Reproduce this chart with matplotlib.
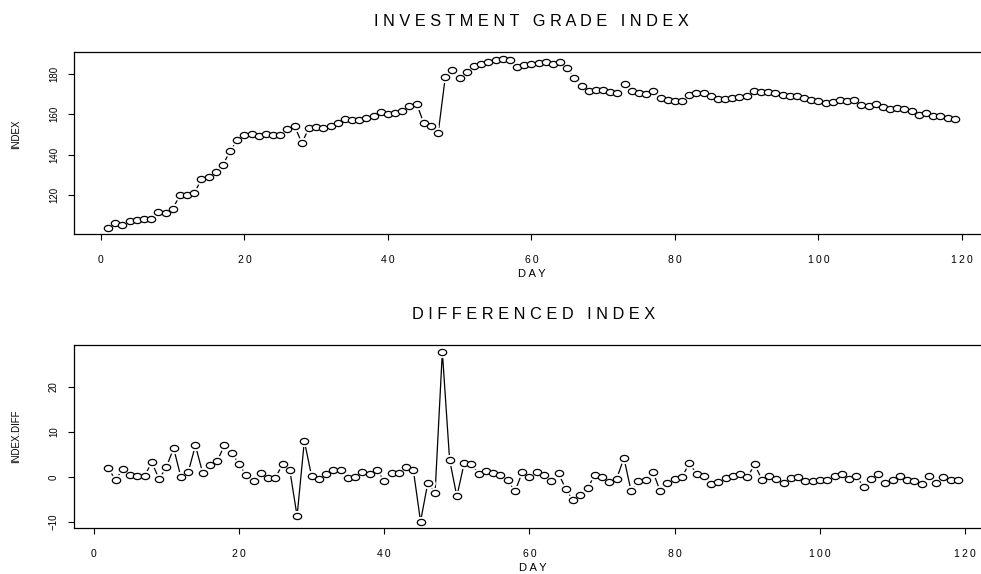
import numpy as np
import matplotlib as mpl
mpl.use("Agg")
import matplotlib.pyplot as plt
from matplotlib.path import Path
from matplotlib.ticker import FuncFormatter

mpl.rcParams.update({"font.family": ["Liberation Sans", "DejaVu Sans"],
    "axes.linewidth": 0.9, "xtick.major.width": 0.8, "ytick.major.width": 0.8,
    "xtick.major.size": 4, "ytick.major.size": 4})

# investment grade index, days 1..119
day = np.arange(1, 120)
index = [104.0, 106.1, 105.5, 107.3, 107.9, 108.1, 108.4, 111.7, 111.2, 113.3,
         119.9, 119.9, 121.0, 127.8, 128.8, 131.3, 134.9, 141.9, 147.1, 149.9,
         150.2, 149.4, 150.2, 149.9, 149.7, 152.8, 154.2, 145.7, 153.3, 153.8,
         153.3, 154.2, 155.8, 157.5, 157.3, 157.3, 158.2, 159.1, 160.9, 159.9,
         160.5, 161.7, 164.0, 165.3, 155.5, 154.0, 150.6, 178.5, 182.1, 178.0,
         180.8, 184.1, 184.9, 186.0, 186.9, 187.3, 186.7, 183.6, 184.4, 184.6,
         185.5, 185.7, 184.9, 185.9, 183.1, 177.7, 173.9, 171.3, 172.0, 172.0,
         170.8, 170.5, 174.9, 171.5, 170.7, 170.2, 171.5, 168.2, 166.9, 166.6,
         166.6, 169.6, 170.4, 170.4, 169.0, 167.7, 167.7, 168.0, 168.7, 168.9,
         171.5, 170.8, 171.0, 170.7, 169.6, 169.0, 169.0, 168.2, 167.0, 166.6,
         165.8, 166.3, 167.0, 166.8, 167.0, 164.6, 164.1, 164.9, 163.4, 162.6,
         163.0, 162.5, 161.5, 159.7, 160.4, 158.9, 158.9, 158.2, 157.5]

# differenced index, days 2..119
day_diff = np.arange(2, 120)
index_diff = [2.0, -0.7, 1.8, 0.5, 0.2, 0.2, 3.3, -0.5, 2.2, 6.4,
              0.0, 1.0, 7.0, 0.9, 2.6, 3.5, 7.1, 5.4, 2.8, 0.4,
              -0.9, 0.9, -0.2, -0.2, 2.8, 1.5, -8.7, 8.0, 0.15, -0.4,
              0.7, 1.6, 1.6, -0.2, -0.1, 1.1, 0.7, 1.6, -0.9, 0.8,
              0.8, 2.2, 1.6, -9.9, -1.3, -3.5, 27.8, 3.8, -4.3, 3.0,
              2.9, 0.7, 1.3, 0.8, 0.45, -0.7, -3.2, 1.0, 0.0, 1.0,
              0.4, -0.9, 0.8, -2.7, -5.2, -4.0, -2.5, 0.5, 0.0, -1.2,
              -0.4, 4.2, -3.2, -0.8, -0.7, 1.2, -3.2, -1.25, -0.4, -0.1,
              3.1, 0.7, 0.2, -1.5, -1.1, -0.15, 0.3, 0.7, -0.1, 2.8,
              -0.6, 0.15, -0.45, -1.3, -0.3, -0.1, -0.9, -0.9, -0.7, -0.7,
              0.2, 0.6, -0.4, 0.2, -2.2, -0.5, 0.7, -1.25, -0.7, 0.15,
              -0.7, -1.0, -1.6, 0.3, -1.3, 0.0, -0.7, -0.7]

xticks = [0, 20, 40, 60, 80, 100, 120]
yticks_top = [120, 140, 160, 180]
yticks_bot = [-10, 0, 10, 20]

TS = "\u2009"
def spread(s):
    # letter-spaced caps, like the original S-PLUS output
    return "   ".join(" ".join(w) for w in s.split())

t = np.linspace(0, 2 * np.pi, 60)
ellipse = Path(np.c_[1.35 * np.cos(t), np.sin(t)], closed=True)

def panel(ax, x, y, title, ylab, yt, ylbl_y):
    ax.plot(x, y, "-", c="k", lw=0.9, zorder=1)
    ax.plot(x, y, ls="none", marker=ellipse, ms=9.5, mfc="white", mec="white", zorder=2)
    ax.plot(x, y, ls="none", marker=ellipse, ms=6, mfc="white", mec="k", mew=0.9, zorder=3)
    rng = max(x) - min(x); ax.set_xlim(min(x) - .04 * rng, max(x) + .04 * rng)
    rng = max(y) - min(y); ax.set_ylim(min(y) - .04 * rng, max(y) + .04 * rng)
    ax.spines["right"].set_visible(False)
    ax.set_xticks(xticks); ax.set_yticks(yt)
    ax.xaxis.set_major_formatter(FuncFormatter(lambda v, p: TS.join(str(int(v)))))
    ax.tick_params(axis="x", labelsize=7.5, pad=11)
    ax.tick_params(axis="y", labelsize=7, pad=7, labelrotation=90)
    for lb in ax.get_yticklabels(): lb.set_va("center")
    ax.set_xlabel(spread("DAY"), fontsize=8, labelpad=3)
    ax.set_ylabel(ylab, fontsize=7)
    ax.yaxis.set_label_coords(-0.058, ylbl_y)
    ax.set_title(spread(title), fontsize=11.8, pad=19)

fig = plt.figure(figsize=(9.81, 5.74), dpi=100)
ax1 = fig.add_axes([0.0757, 0.5918, 0.932, 0.3171])
ax2 = fig.add_axes([0.0757, 0.0796, 0.9355, 0.3193])
panel(ax1, day, index, "INVESTMENT GRADE INDEX", "INDEX", yticks_top, 0.55)
panel(ax2, day_diff, index_diff, "DIFFERENCED INDEX", "INDEX.DIFF", yticks_bot, 0.5)
fig.savefig("out.png", dpi=100)
